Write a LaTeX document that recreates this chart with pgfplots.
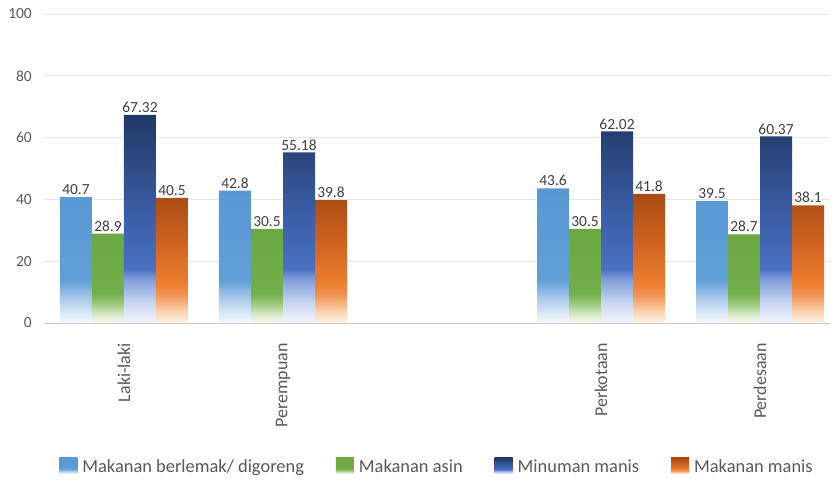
\documentclass[border=0pt]{standalone}
\usepackage{pgfplots}
\pgfplotsset{compat=1.18}
\usepackage{fontspec}
\setmainfont{Carlito}

\definecolor{gridc}{HTML}{E6E6E6}
\definecolor{axisc}{HTML}{C6C6C6}
\definecolor{tickc}{HTML}{595959}
\definecolor{labc}{HTML}{404040}

% fill gradients: solid towards the top, fading to white at the base
\pgfdeclareverticalshading{lbshade}{100bp}{%
  color(0bp)=(white); color(25bp)=(rgb,255:red,245;green,249;blue,253); color(30bp)=(rgb,255:red,208;green,226;blue,244);
  color(36bp)=(rgb,255:red,150;green,190;blue,230); color(41bp)=(rgb,255:red,96;green,158;blue,214);
  color(75bp)=(rgb,255:red,88;green,152;blue,212); color(100bp)=(rgb,255:red,88;green,152;blue,212)}
\pgfdeclareverticalshading{grshade}{100bp}{%
  color(0bp)=(white); color(25bp)=(rgb,255:red,246;green,250;blue,242); color(30bp)=(rgb,255:red,212;green,232;blue,196);
  color(36bp)=(rgb,255:red,150;green,198;blue,116); color(41bp)=(rgb,255:red,114;green,174;blue,74);
  color(75bp)=(rgb,255:red,108;green,168;blue,66); color(100bp)=(rgb,255:red,108;green,168;blue,66)}
\pgfdeclareverticalshading{nvshade}{100bp}{%
  color(0bp)=(white); color(25bp)=(rgb,255:red,243;green,246;blue,252); color(30bp)=(rgb,255:red,200;green,214;blue,242);
  color(36bp)=(rgb,255:red,122;green,152;blue,216); color(38bp)=(rgb,255:red,74;green,112;blue,194);
  color(52bp)=(rgb,255:red,58;green,92;blue,164); color(75bp)=(rgb,255:red,32;green,56;blue,100);
  color(100bp)=(rgb,255:red,32;green,56;blue,100)}
\pgfdeclareverticalshading{orshade}{100bp}{%
  color(0bp)=(white); color(25bp)=(rgb,255:red,255;green,244;blue,234); color(30bp)=(rgb,255:red,250;green,206;blue,168);
  color(36bp)=(rgb,255:red,243;green,146;blue,82); color(41bp)=(rgb,255:red,236;green,124;blue,46);
  color(55bp)=(rgb,255:red,208;green,100;blue,32); color(75bp)=(rgb,255:red,170;green,74;blue,18);
  color(100bp)=(rgb,255:red,170;green,74;blue,18)}

\begin{document}
\begin{tikzpicture}
\useasboundingbox (0,0) rectangle (835bp,481bp);
\begin{axis}[
  at={(44bp,158bp)}, anchor=south west,
  scale only axis, width=786bp, height=309bp,
  ybar=0pt, bar width=32bp,
  xmin=-0.503, xmax=4.44,
  ymin=0, ymax=100,
  ytick={0,20,...,100},
  xtick={0,1,3,4},
  xticklabels={Laki-laki,Perempuan,Perkotaan,Perdesaan},
  axis x line*=bottom, axis y line*=left,
  x axis line style={draw=axisc, line width=1bp, -},
  y axis line style={draw=none},
  major tick length=0pt,
  ymajorgrids, grid style={draw=gridc, line width=0.8bp},
  /pgf/number format/assume math mode=true,
  yticklabel style={font=\fontsize{15.5}{18}\selectfont, text=tickc, inner sep=0pt, anchor=east, xshift=-12bp},
  xticklabel style={font=\fontsize{18}{20}\selectfont, text=tickc, rotate=90, anchor=east, inner sep=0pt},
  xticklabel shift=20bp,
  nodes near coords,
  every node near coord/.append style={font=\fontsize{15.5}{18}\selectfont, text=labc, inner sep=2bp},
  legend style={draw=none, at={(0.5,-0.466)}, anchor=center, font=\fontsize{18.5}{21}\selectfont,
    text=tickc, legend columns=4,
    /tikz/every odd column/.append style={column sep=3bp},
    /tikz/every even column/.append style={column sep=30bp}},
  legend image code/.code={\path[#1] (0bp,-7bp) rectangle (18bp,9bp);},
  clip=false,
]
\addplot[draw=none, shade, shading=lbshade] coordinates {(0,40.7) (1,42.8) (3,43.6) (4,39.5)};
\addlegendentry{Makanan berlemak/ digoreng}
\addplot[draw=none, shade, shading=grshade] coordinates {(0,28.9) (1,30.5) (3,30.5) (4,28.7)};
\addlegendentry{Makanan asin}
\addplot[draw=none, shade, shading=nvshade] coordinates {(0,67.32) (1,55.18) (3,62.02) (4,60.37)};
\addlegendentry{Minuman manis}
\addplot[draw=none, shade, shading=orshade] coordinates {(0,40.5) (1,39.8) (3,41.8) (4,38.1)};
\addlegendentry{Makanan manis}
\end{axis}
\end{tikzpicture}
\end{document}
